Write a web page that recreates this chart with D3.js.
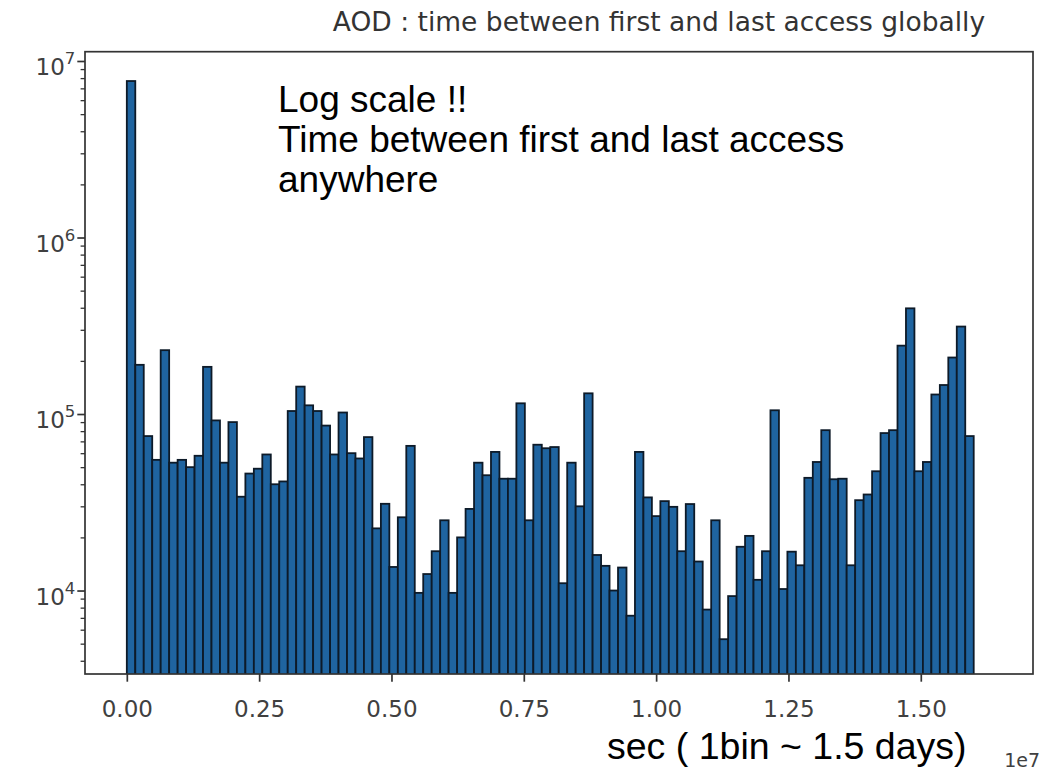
<!DOCTYPE html>
<html>
<head>
<meta charset="utf-8">
<script src="https://cdn.jsdelivr.net/npm/d3@7"></script>
<style>
  body { margin: 0; background: #fff; }
  svg { display: block; }
</style>
</head>
<body>
<svg id="chart" width="1045" height="775"></svg>
<script>
// Histogram: 100 equal bins between binStart and binEnd (seconds)
const binStart = 0;
const binEnd = 1.6e7;

// Counts per bin (log scale)
const counts = [
  7.7e6, 1.9e5, 7.5e4, 5.5e4, 2.3e5, 5.3e4, 5.5e4, 5.0e4, 5.8e4, 1.85e5,
  9.2e4, 5.3e4, 9.0e4, 3.4e4, 4.6e4, 4.9e4, 5.9e4, 4.0e4, 4.15e4, 1.04e5,
  1.43e5, 1.12e5, 1.04e5, 8.6e4, 5.9e4, 1.02e5, 6.0e4, 5.6e4, 7.4e4, 2.25e4,
  3.1e4, 1.36e4, 2.6e4, 6.6e4, 9.7e3, 1.24e4, 1.67e4, 2.5e4, 9.7e3, 2.0e4,
  2.9e4, 5.3e4, 4.5e4, 6.1e4, 4.3e4, 4.3e4, 1.15e5, 2.5e4, 6.7e4, 6.4e4,
  6.5e4, 1.1e4, 5.3e4, 3.0e4, 1.31e5, 1.59e4, 1.38e4, 1.0e4, 1.35e4, 7.2e3,
  6.1e4, 3.37e4, 2.64e4, 3.21e4, 2.98e4, 1.67e4, 3.09e4, 1.46e4, 7.8e3, 2.5e4,
  5.3e3, 9.3e3, 1.77e4, 2.04e4, 1.15e4, 1.67e4, 1.05e5, 1.02e4, 1.66e4, 1.39e4,
  4.35e4, 5.35e4, 8.1e4, 4.27e4, 4.3e4, 1.39e4, 3.25e4, 3.5e4, 4.74e4, 7.8e4,
  8.1e4, 2.44e5, 3.97e5, 4.74e4, 5.35e4, 1.29e5, 1.46e5, 2.09e5, 3.13e5, 7.5e4
];

// Axis limits
const xLimits = [-7.9e5, 1.712e7];
const yLimits = [3.366e3, 1.129e7];

// Tick values and labels
const xTicks = [0, 0.25e7, 0.5e7, 0.75e7, 1.0e7, 1.25e7, 1.5e7];
const xTickLabels = ["0.00", "0.25", "0.50", "0.75", "1.00", "1.25", "1.50"];
const xOffsetLabel = "1e7";
const yTicks = [1e4, 1e5, 1e6, 1e7];
const yTickExponents = ["4", "5", "6", "7"];

// Text
const titleText = "AOD : time between first and last access globally";
const noteLines = ["Log scale !!", "Time between first and last access", "anywhere"];
const xLabelText = "sec ( 1bin ~ 1.5 days)";

const svg = d3.select("#chart");
const plot = { left: 85, right: 1033, top: 51.7, bottom: 674 };

const x = d3.scaleLinear().domain(xLimits).range([plot.left, plot.right]);
const y = d3.scaleLog().domain(yLimits).range([plot.bottom, plot.top]);

const binWidth = (binEnd - binStart) / counts.length;
const bins = counts.map((c, i) => ({ x0: binStart + i * binWidth, x1: binStart + (i + 1) * binWidth, count: c }));

svg.append("defs").append("clipPath").attr("id", "plot-clip")
  .append("rect")
  .attr("x", plot.left).attr("y", plot.top)
  .attr("width", plot.right - plot.left).attr("height", plot.bottom - plot.top);

// Bars
svg.append("g").attr("clip-path", "url(#plot-clip)")
  .selectAll("rect").data(bins).join("rect")
  .attr("x", d => x(d.x0))
  .attr("width", d => x(d.x1) - x(d.x0))
  .attr("y", d => y(d.count))
  .attr("height", d => plot.bottom + 4 - y(d.count))
  .attr("fill", "#1f64a0")
  .attr("stroke", "#0d1a28")
  .attr("stroke-width", 1.8);

const axisColor = "#333";
const tickFont = "DejaVu Sans, sans-serif";
const tickColor = "#404040";

// X axis
const xAxis = d3.axisBottom(x)
  .tickValues(xTicks)
  .tickFormat((d, i) => xTickLabels[i])
  .tickSizeOuter(0)
  .tickSize(7.7)
  .tickPadding(19);
const gx = svg.append("g").attr("transform", `translate(0,${plot.bottom})`).call(xAxis);
gx.select(".domain").remove();
gx.selectAll(".tick line").attr("stroke", axisColor).attr("stroke-width", 1.7);
gx.selectAll(".tick text")
  .attr("fill", tickColor)
  .style("font-family", tickFont)
  .style("font-size", "23px");

// Y axis: major ticks
const yAxis = d3.axisLeft(y)
  .tickValues(yTicks)
  .tickFormat("")
  .tickSizeOuter(0)
  .tickSize(7.7);
const gy = svg.append("g").attr("transform", `translate(${plot.left},0)`).call(yAxis);
gy.select(".domain").remove();
gy.selectAll(".tick line").attr("stroke", axisColor).attr("stroke-width", 1.7);

// Y axis: minor ticks
const minorTicks = [];
for (let k = 3; k <= 7; k++) {
  for (let m = 2; m <= 9; m++) {
    const v = m * Math.pow(10, k);
    if (v >= yLimits[0] && v <= yLimits[1]) minorTicks.push(v);
  }
}
const yMinor = d3.axisLeft(y).tickValues(minorTicks).tickFormat("").tickSizeOuter(0).tickSize(4.4);
const gym = svg.append("g").attr("transform", `translate(${plot.left},0)`).call(yMinor);
gym.select(".domain").remove();
gym.selectAll(".tick line").attr("stroke", axisColor).attr("stroke-width", 1.3);

// Y tick labels as 10 with superscript exponent
const yLabels = svg.append("g")
  .style("font-family", tickFont)
  .attr("fill", tickColor);
yTicks.forEach((v, i) => {
  const t = yLabels.append("text")
    .attr("x", plot.left - 7.7 - 2)
    .attr("y", y(v) + 14)
    .attr("text-anchor", "end");
  t.append("tspan").style("font-size", "23px").text("10");
  t.append("tspan").style("font-size", "16.5px").attr("dy", -11).text(yTickExponents[i]);
});

// Axes frame
svg.append("rect")
  .attr("x", plot.left).attr("y", plot.top)
  .attr("width", plot.right - plot.left).attr("height", plot.bottom - plot.top)
  .attr("fill", "none").attr("stroke", axisColor).attr("stroke-width", 1.7);

// Offset text for x axis
svg.append("text")
  .attr("x", plot.right + 7).attr("y", 767)
  .attr("text-anchor", "end")
  .style("font-family", tickFont).style("font-size", "19px")
  .attr("fill", tickColor)
  .text(xOffsetLabel);

// Title
svg.append("text")
  .attr("x", 659).attr("y", 31)
  .attr("text-anchor", "middle")
  .style("font-family", tickFont).style("font-size", "26.5px")
  .attr("fill", "#333")
  .text(titleText);

// Note inside the plot
const note = svg.append("text")
  .style("font-family", "Liberation Sans, Arial, sans-serif")
  .style("font-size", "37px")
  .attr("fill", "#000");
noteLines.forEach((line, i) => {
  note.append("tspan").attr("x", 278).attr("y", 112 + i * 40).text(line);
});

// X axis label
svg.append("text")
  .attr("x", 607).attr("y", 759)
  .style("font-family", "Liberation Sans, Arial, sans-serif")
  .style("font-size", "37.5px")
  .attr("fill", "#000")
  .text(xLabelText);
</script>
</body>
</html>
